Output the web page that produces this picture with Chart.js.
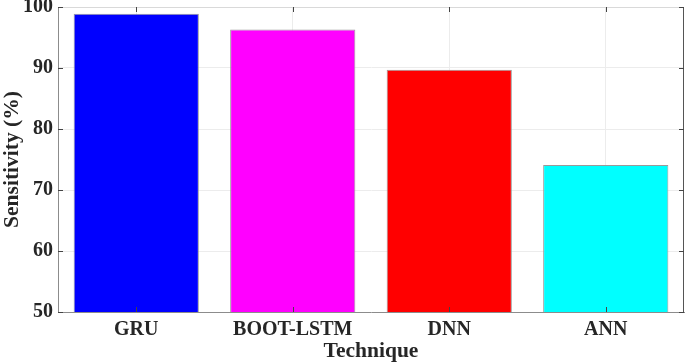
<!DOCTYPE html>
<html>
<head>
<meta charset="utf-8">
<script src="https://cdn.jsdelivr.net/npm/chart.js@4/dist/chart.umd.min.js"></script>
<style>
  html, body { margin: 0; padding: 0; background: #fff; }
  #wrap { width: 685px; height: 364px; }
</style>
</head>
<body>
<div id="wrap"><canvas id="c" width="685" height="364"></canvas></div>
<script>
const categories = ["GRU", "BOOT-LSTM", "DNN", "ANN"];
const sensitivity = [98.9, 96.3, 89.7, 74.1];
const barColors = ["#0000ff", "#ff00ff", "#ff0000", "#00ffff"];
const yTicks = [50, 60, 70, 80, 90, 100];
const yTitle = "Sensitivity (%)";
const xTitle = "Technique";

const FONT = "'Liberation Serif', 'Times New Roman', serif";
const TXT = "#262626";

const innerTicks = {
  id: 'innerTicks',
  afterDraw(chart) {
    const ctx = chart.ctx;
    const a = chart.chartArea;
    const xs = chart.scales.x, ys = chart.scales.y;
    ctx.save();
    ctx.strokeStyle = '#d9d9d9';
    ctx.lineWidth = 1;
    ctx.beginPath();
    ctx.moveTo(a.left, a.top + 0.5);
    ctx.lineTo(a.right, a.top + 0.5);
    ctx.stroke();
    ctx.strokeStyle = '#555';
    ctx.beginPath();
    ctx.moveTo(a.right - 0.5, a.top);
    ctx.lineTo(a.right - 0.5, a.bottom);
    ctx.stroke();
    ctx.strokeStyle = '#444';
    ctx.beginPath();
    categories.forEach((c, i) => {
      const x = Math.round(xs.getPixelForValue(i)) + 0.5;
      ctx.moveTo(x, a.bottom); ctx.lineTo(x, a.bottom - 5);
      ctx.moveTo(x, a.top); ctx.lineTo(x, a.top + 5);
    });
    yTicks.forEach(v => {
      const y = Math.round(ys.getPixelForValue(v)) + 0.5;
      ctx.moveTo(a.left, y); ctx.lineTo(a.left + 5, y);
      ctx.moveTo(a.right, y); ctx.lineTo(a.right - 5, y);
    });
    ctx.stroke();
    ctx.restore();
  }
};

new Chart(document.getElementById('c'), {
  type: 'bar',
  data: {
    labels: categories,
    datasets: [{
      data: sensitivity,
      backgroundColor: barColors,
      borderColor: '#999999',
      borderWidth: 1,
      barPercentage: 0.8,
      categoryPercentage: 1.0
    }]
  },
  options: {
    responsive: false,
    animation: false,
    devicePixelRatio: 1,
    layout: { padding: { left: 0, right: 1, top: 7, bottom: 0 } },
    plugins: { legend: { display: false }, tooltip: { enabled: false } },
    scales: {
      x: {
        grid: { display: true, offset: false, color: '#ececec', drawTicks: false },
        border: { display: true, color: '#8c8c8c', width: 1 },
        ticks: { color: TXT, font: { family: FONT, size: 20, weight: 'bold' }, padding: 6 },
        title: { display: true, text: xTitle, color: TXT, font: { family: FONT, size: 21.5, weight: 'bold' }, padding: { top: 0, bottom: 0 } },
        afterFit(s) { s.height = 52; s.paddingLeft = 0; s.paddingRight = 0; }
      },
      y: {
        min: 50, max: 100,
        afterBuildTicks(s) { s.ticks = yTicks.map(v => ({ value: v })); },
        grid: { color: '#ececec', drawTicks: false },
        border: { display: true, color: '#8c8c8c', width: 1 },
        ticks: { color: TXT, font: { family: FONT, size: 20, weight: 'bold' }, padding: 5 },
        title: { display: true, text: yTitle, color: TXT, font: { family: FONT, size: 21.5, weight: 'bold' }, padding: { top: 0, bottom: 0 } },
        afterFit(s) { s.width = 58; s.paddingTop = 0; s.paddingBottom = 0; }
      }
    }
  },
  plugins: [innerTicks]
});
</script>
</body>
</html>
